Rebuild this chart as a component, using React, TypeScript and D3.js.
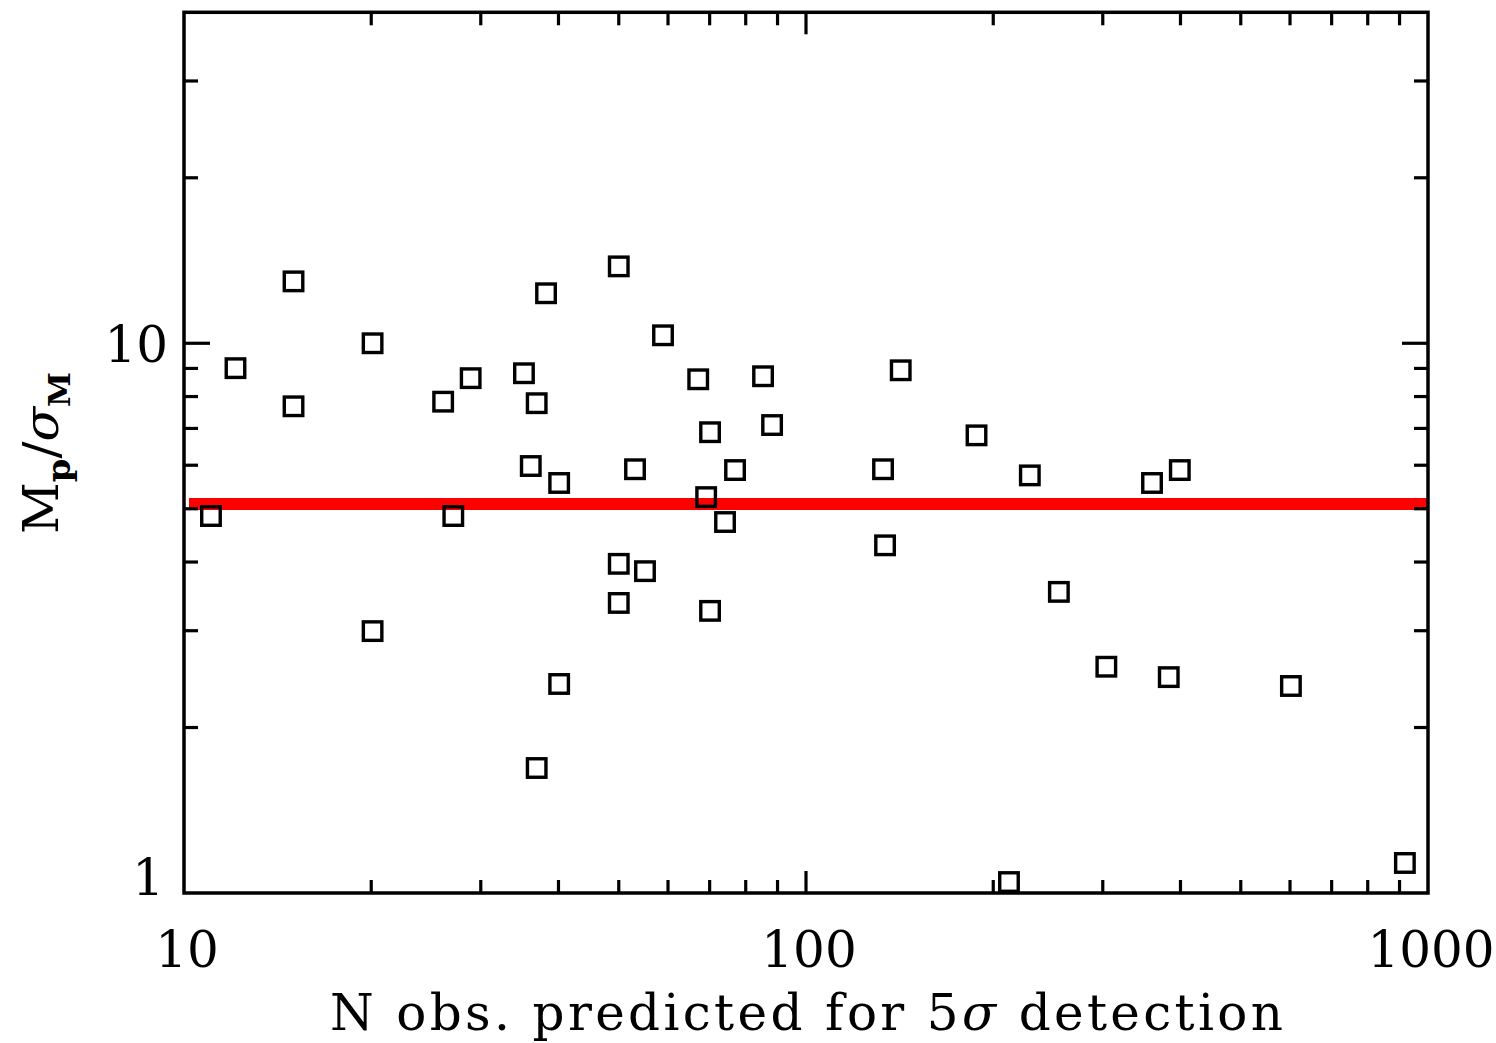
import React from "react";
import * as d3 from "d3";

const nObs: number[] = [
  11.05, 12.1, 15.0, 15.0, 20.1, 20.1, 26.1, 27.1, 28.9, 35.2, 36.1, 36.9, 36.9, 38.2,
  40.1, 40.1, 50.0, 50.0, 50.0, 53.1, 55.1, 58.9, 67.1, 69.1, 70.1, 70.1, 74.1, 76.9,
  85.3, 88.2, 133, 134, 142, 188, 212, 229, 255, 304, 360, 383, 399, 602, 918,
];
const mpSigma: number[] = [
  4.85, 9.01, 12.96, 7.68, 10.0, 2.995, 7.83, 4.85, 8.64, 8.82, 5.98, 7.78, 1.688, 12.33,
  5.57, 2.4, 13.8, 3.97, 3.37, 5.9, 3.85, 10.34, 8.6, 5.25, 6.89, 3.26, 4.73, 5.88,
  8.71, 7.1, 5.9, 4.29, 8.93, 6.8, 1.047, 5.75, 3.53, 2.58, 5.57, 2.47, 5.88, 2.38, 1.134,
];
const thresholdLevel: number[] = [5.1];
const xDomain: number[] = [10, 1000];
const yDomain: number[] = [1, 40];
const xTickLabels: number[] = [10, 100, 1000];
const yTickLabels: number[] = [1, 10];

const W = 1496;
const H = 1043;
const left = 184;
const right = 1428;
const top = 12.3;
const bottom = 893;
const FONT = "'DejaVu Serif', 'Liberation Serif', serif";

export default function App() {
  const x = d3.scaleLog().domain(xDomain).range([left, right]);
  const y = d3.scaleLog().domain(yDomain).range([bottom, top]);
  const xt = x.ticks();
  const yt = y.ticks().filter((v) => v > yDomain[0] && v < yDomain[1]);
  const isMajor = (v: number) => Math.abs(Math.log10(v) - Math.round(Math.log10(v))) < 1e-9;
  const sq = 18.5;

  return (
    <svg width={W} height={H} style={{ display: "block", position: "absolute", left: 0, top: 0, background: "#fff" }}>
      <rect x={0} y={0} width={W} height={H} fill="#fff" />
      {thresholdLevel.map((v, i) => (
        <line key={"t" + i} x1={left + 5} x2={right + 1} y1={y(v)} y2={y(v)} stroke="#ff0000" strokeWidth={12} />
      ))}
      {nObs.map((n, i) => (
        <rect
          key={"p" + i}
          x={x(n) - sq / 2}
          y={y(mpSigma[i]) - sq / 2}
          width={sq}
          height={sq}
          fill="none"
          stroke="#000"
          strokeWidth={3.4}
        />
      ))}
      {xt.filter((v) => v > xDomain[0] && v < xDomain[1]).map((v, i) => {
        const len = isMajor(v) ? 22 : 13;
        return (
          <g key={"xt" + i}>
            <line x1={x(v)} x2={x(v)} y1={bottom} y2={bottom - len} stroke="#000" strokeWidth={3.2} />
            <line x1={x(v)} x2={x(v)} y1={top} y2={top + len} stroke="#000" strokeWidth={3.2} />
          </g>
        );
      })}
      {yt.map((v, i) => {
        const len = isMajor(v) ? 26 : 14;
        return (
          <g key={"yt" + i}>
            <line x1={left} x2={left + len} y1={y(v)} y2={y(v)} stroke="#000" strokeWidth={3.2} />
            <line x1={right} x2={right - len} y1={y(v)} y2={y(v)} stroke="#000" strokeWidth={3.2} />
          </g>
        );
      })}
      <rect x={left} y={top} width={right - left} height={bottom - top} fill="none" stroke="#000" strokeWidth={3.5} />
      {xTickLabels.map((v, i) => (
        <text key={"xl" + i} x={x(v) + 3} y={967} textAnchor="middle" fontFamily={FONT} fontSize={50} fill="#000">
          {v}
        </text>
      ))}
      {yTickLabels.map((v, i) => (
        <text
          key={"yl" + i}
          x={v === 1 ? 164 : 168}
          y={v === 1 ? y(v) + 2 : y(v) + 19}
          textAnchor="end"
          fontFamily={FONT}
          fontSize={50}
          fill="#000"
        >
          {v}
        </text>
      ))}
      <text
        x={330}
        y={1030}
        fontFamily={FONT}
        fontSize={50}
        fill="#000"
        textLength={953}
        lengthAdjust="spacing"
      >
        N obs. predicted for 5<tspan fontStyle="italic">σ</tspan> detection
      </text>
      <text
        transform={`translate(58, 453) rotate(-90)`}
        textAnchor="middle"
        fontFamily={FONT}
        fontSize={48}
        fill="#000"
        textLength={162}
        lengthAdjust="spacingAndGlyphs"
      >
        M<tspan fontSize={32} dy={12} fontWeight="bold">p</tspan>
        <tspan dy={-12}>/</tspan>
        <tspan fontStyle="italic">σ</tspan>
        <tspan fontSize={30} dy={12} fontWeight="bold">M</tspan>
      </text>
    </svg>
  );
}
